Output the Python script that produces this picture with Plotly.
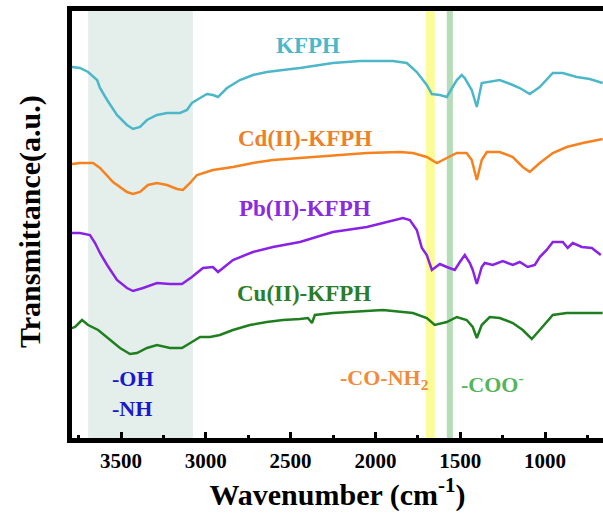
import plotly.graph_objects as go

# Wavenumber (cm^-1) and transmittance (a.u., offset-stacked)
kfph_wn = [3790, 3742, 3694, 3641, 3624, 3582, 3524, 3465, 3429, 3388, 3347, 3288, 3229, 3152, 3111,
           3082, 3034, 2993, 2958, 2928, 2875, 2799, 2722, 2640, 2545, 2445, 2251, 2092, 1897, 1815,
           1756, 1697, 1667, 1620, 1579, 1549, 1520, 1491, 1473, 1432, 1402, 1373, 1343, 1267, 1190,
           1149, 1090, 1031, 954, 895, 813, 736, 660]
kfph_t = [373, 372, 368, 360, 352, 340, 325, 315, 311, 313, 320, 325, 327, 327, 330,
          337, 342, 346, 345, 343, 352, 360, 365, 368, 370, 372, 377, 379, 379, 377,
          368, 355, 346, 345, 343, 352, 360, 365, 362, 350, 333, 357, 358, 360, 355,
          352, 346, 353, 367, 367, 363, 361, 357]

cd_wn = [3790, 3742, 3665, 3624, 3547, 3465, 3429, 3388, 3341, 3288, 3229, 3170, 3135, 3093, 3052,
         2958, 2840, 2722, 2604, 2445, 2251, 2050, 1856, 1779, 1697, 1638, 1579, 1520, 1462, 1432,
         1402, 1373, 1343, 1267, 1190, 1131, 1090, 1031, 954, 872, 777, 660]
cd_t = [276, 277, 277, 272, 258, 248, 246, 248, 255, 257, 255, 251, 250, 257, 265,
        270, 273, 277, 280, 282, 285, 287, 288, 287, 283, 277, 282, 287, 287, 280,
        260, 280, 288, 288, 283, 273, 268, 277, 287, 293, 297, 301]

pb_wn = [3790, 3742, 3683, 3653, 3624, 3582, 3524, 3465, 3429, 3370, 3288, 3211, 3141, 3082, 3017,
         2958, 2928, 2875, 2840, 2722, 2604, 2445, 2251, 2050, 1838, 1797, 1756, 1726, 1697, 1667,
         1638, 1620, 1579, 1532, 1502, 1473, 1443, 1426, 1402, 1373, 1355, 1308, 1249, 1190, 1149,
         1102, 1060, 1031, 990, 954, 895, 866, 836, 783, 724, 671]
pb_t = [207, 207, 205, 197, 187, 175, 160, 152, 149, 152, 157, 156, 156, 163, 172,
        173, 168, 175, 180, 188, 193, 198, 208, 213, 222, 220, 210, 192, 185, 170,
        174, 176, 173, 170, 178, 185, 177, 170, 156, 173, 177, 175, 179, 175, 178,
        173, 175, 183, 190, 198, 198, 192, 197, 193, 192, 185]

cu_wn = [3790, 3771, 3730, 3694, 3635, 3565, 3506, 3447, 3406, 3347, 3288, 3211, 3141, 3082, 3034,
         2975, 2917, 2840, 2740, 2640, 2545, 2445, 2398, 2374, 2357, 2251, 2092, 1956, 1779, 1697,
         1650, 1602, 1579, 1520, 1462, 1426, 1402, 1373, 1326, 1267, 1190, 1131, 1078, 1031, 954,
         872, 754, 660]
cu_t = [112, 113, 120, 115, 110, 100, 92, 86, 87, 92, 95, 92, 92, 98, 103,
        103, 105, 110, 115, 118, 120, 121, 122, 117, 125, 127, 129, 130, 127, 122,
        115, 117, 118, 123, 120, 113, 102, 115, 123, 122, 117, 110, 101, 110, 125,
        127, 127, 127]

series_names = ["KFPH", "Cd(II)-KFPH", "Pb(II)-KFPH", "Cu(II)-KFPH"]
series_colors = ["#4cb7c9", "#f5821f", "#8a22e6", "#1f7f1f"]
label_colors = ["#4cb7c9", "#ee8027", "#8a2be2", "#2a7d2a"]
label_pos = [(2398, 395), (2416, 302), (2416, 232), (2422, 147)]

bands = [(3694, 3076, "#e4efec"), (1703, 1650, "#fbfb98"), (1579, 1543, "#b6dcb8")]
band_labels = [("-OH", 3565, 62, "left", "#1a1acc"), ("-NH", 3565, 32, "left", "#1a1acc"),
               ("-CO-NH<sub>2</sub>", 1944, 61, "center", "#f28a3c"),
               ("-COO<sup>-</sup>", 1308, 57, "center", "#55b55a")]

tick_vals = [3500, 3000, 2500, 2000, 1500, 1000]
tick_text = ["3500", "3000", "2500", "2000", "1500", "1000"]

FONT = "Liberation Serif"

fig = go.Figure()
for wn, t, name, col in zip([kfph_wn, cd_wn, pb_wn, cu_wn], [kfph_t, cd_t, pb_t, cu_t],
                            series_names, series_colors):
    fig.add_trace(go.Scatter(x=wn, y=t, mode="lines", name=name,
                             line=dict(color=col, width=2.5), showlegend=False))

for x0, x1, col in bands:
    fig.add_shape(type="rect", xref="x", yref="paper", x0=x0, x1=x1, y0=0, y1=1,
                  fillcolor=col, line=dict(width=0), layer="below")

for (lx, ly), name, col in zip(label_pos, series_names, label_colors):
    fig.add_annotation(x=lx, y=ly, text=name, showarrow=False, xanchor="center", yanchor="middle",
                       font=dict(family=FONT, size=23, color=col, weight="bold"))

for txt, bx, by, anc, col in band_labels:
    fig.add_annotation(x=bx, y=by, text=txt, showarrow=False, xanchor=anc, yanchor="middle",
                       font=dict(family=FONT, size=22, color=col, weight="bold"))

fig.add_annotation(xref="paper", yref="paper", x=-0.079, y=0.506, text="Transmittance(a.u.)",
                   textangle=-90, showarrow=False, xanchor="center", yanchor="middle",
                   font=dict(family=FONT, size=30, color="black", weight="bold"))

fig.update_layout(
    width=603, height=519,
    margin=dict(l=72, r=0, t=11, b=81),
    plot_bgcolor="white", paper_bgcolor="white",
    xaxis=dict(range=[3789, 658], showgrid=False, zeroline=False,
               showline=True, linecolor="black", linewidth=4.5, mirror=True,
               ticks="inside", ticklen=6, tickwidth=3, tickcolor="black",
               tickvals=tick_vals, ticktext=tick_text,
               minor=dict(ticks="inside", ticklen=3, tickwidth=2.5, tickcolor="black",
                          tickvals=[3750, 3250, 2750, 2250, 1750, 1250, 750]),
               tickfont=dict(family=FONT, size=21, color="black", weight="bold"),
               title=dict(text="Wavenumber (cm<sup>-1</sup>)", standoff=10,
                          font=dict(family=FONT, size=30, color="black", weight="bold"))),
    yaxis=dict(range=[2, 429], showgrid=False, zeroline=False, showticklabels=False,
               showline=True, linecolor="black", linewidth=4.5, ticks=""),
)

fig.write_html("out.html")
